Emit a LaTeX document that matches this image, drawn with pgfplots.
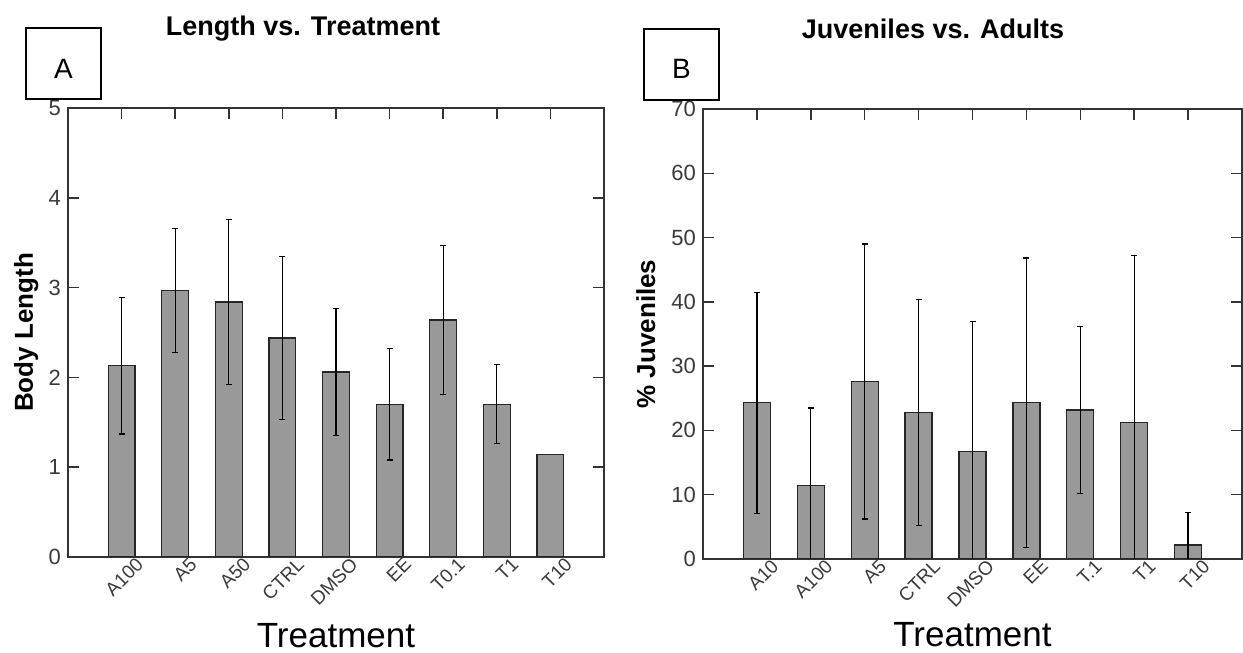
\documentclass[border=0pt]{standalone}
\usepackage{fontspec}
\setmainfont{Liberation Sans}
\usepackage{pgfplots}
\pgfplotsset{compat=1.18}
\definecolor{barfill}{HTML}{999999}
\definecolor{ticklab}{HTML}{3A3A3A}
\definecolor{framec}{HTML}{333333}

\pgfplotsset{
  panel/.style={
    scale only axis,
    anchor=south west,
    ybar, bar width=0.5,
    xmin=0, xmax=10, ymin=0,
    xtick={1,...,9},
    xtick pos=upper, xticklabel pos=lower,
    ytick pos=both, yticklabel pos=left,
    tick align=inside,
    major tick length=11pt,
    every tick/.style={framec, line width=1.5pt},
    axis line style={framec, line width=1.8pt},
    /pgf/number format/assume math mode=true,
    yticklabel style={font=\fontsize{22}{22}\selectfont, text=ticklab, inner sep=0pt, xshift=-7pt},
    xticklabel style={font=\fontsize{19}{19}\selectfont, text=ticklab, rotate=45, anchor=north east, inner sep=1pt, xshift=11pt, yshift=-8pt},
    xlabel={Treatment},
  },
  bars/.style={bar shift=0pt, draw=black!85, fill=barfill, line width=1.3pt},
  errs/.style={error bars/.cd, y dir=both, y explicit,
    error bar style={line width=1.3pt, black},
    error mark options={rotate=90, mark size=3pt, line width=1.3pt, black}},
}

\begin{document}
\begin{tikzpicture}
\useasboundingbox (0pt,0pt) rectangle (1243pt,653pt);

% Panel A
\begin{axis}[panel,
  at={(68pt,96pt)}, width=536pt, height=449pt,
  ymax=5, ytick={0,1,2,3,4,5},
  xticklabels={A100,A5,A50,CTRL,DMSO,EE,T0.1,T1,T10},
  ylabel={Body Length},
  every axis y label/.style={at={(axis description cs:-0.078,0.5)}, rotate=90, anchor=center, font=\bfseries\fontsize{26}{26}\selectfont},
  every axis x label/.style={at={(axis description cs:0.5,0)}, anchor=base, yshift=-91pt, inner sep=0pt, font=\fontsize{35}{35}\selectfont},
]
\addplot[bars, errs] coordinates {
  (1,2.13) +- (0,0.76)
  (2,2.97) +- (0,0.69)
  (3,2.84) +- (0,0.92)
  (4,2.44) +- (0,0.91)
  (5,2.06) +- (0,0.71)
  (6,1.70) +- (0,0.62)
  (7,2.64) +- (0,0.83)
  (8,1.70) +- (0,0.44)
};
\addplot[bars] coordinates {(9,1.14)};
\end{axis}

% Panel B
\begin{axis}[panel,
  at={(703pt,94pt)}, width=539pt, height=450pt,
  ymax=70, ytick={0,10,...,70},
  xticklabels={A10,A100,A5,CTRL,DMSO,EE,T.1,T1,T10},
  ylabel={\% Juveniles},
  every axis y label/.style={at={(axis description cs:-0.106,0.5)}, rotate=90, anchor=center, font=\bfseries\fontsize{26}{26}\selectfont},
  every axis x label/.style={at={(axis description cs:0.5,0)}, anchor=base, yshift=-88pt, inner sep=0pt, font=\fontsize{35}{35}\selectfont},
]
\addplot[bars, errs] coordinates {
  (1,24.3) +- (0,17.2)
  (2,11.4) +- (0,12.1)
  (3,27.6) +- (0,21.4)
  (4,22.8) +- (0,17.6)
  (5,16.7) +- (0,20.2)
  (6,24.3) +- (0,22.5)
  (7,23.2) +- (0,13.0)
  (8,21.2) +- (0,26.0)
  (9,2.2) +- (0,5.0)
};
\end{axis}

% Panel letters and titles
\draw[black, line width=2pt] (26pt,554pt) rectangle (101pt,625pt);
\node[font=\fontsize{28}{28}\selectfont, inner sep=0pt] at (63.5pt,584pt) {A};
\node[font=\bfseries\fontsize{27}{27}\selectfont, inner sep=0pt] at (303pt,624pt) {Length vs. Treatment};

\draw[black, line width=2pt] (644pt,553pt) rectangle (719pt,624pt);
\node[font=\fontsize{28}{28}\selectfont, inner sep=0pt] at (681.5pt,584pt) {B};
\node[font=\bfseries\fontsize{27}{27}\selectfont, inner sep=0pt] at (933pt,624pt) {Juveniles vs. Adults};
\end{tikzpicture}
\end{document}
